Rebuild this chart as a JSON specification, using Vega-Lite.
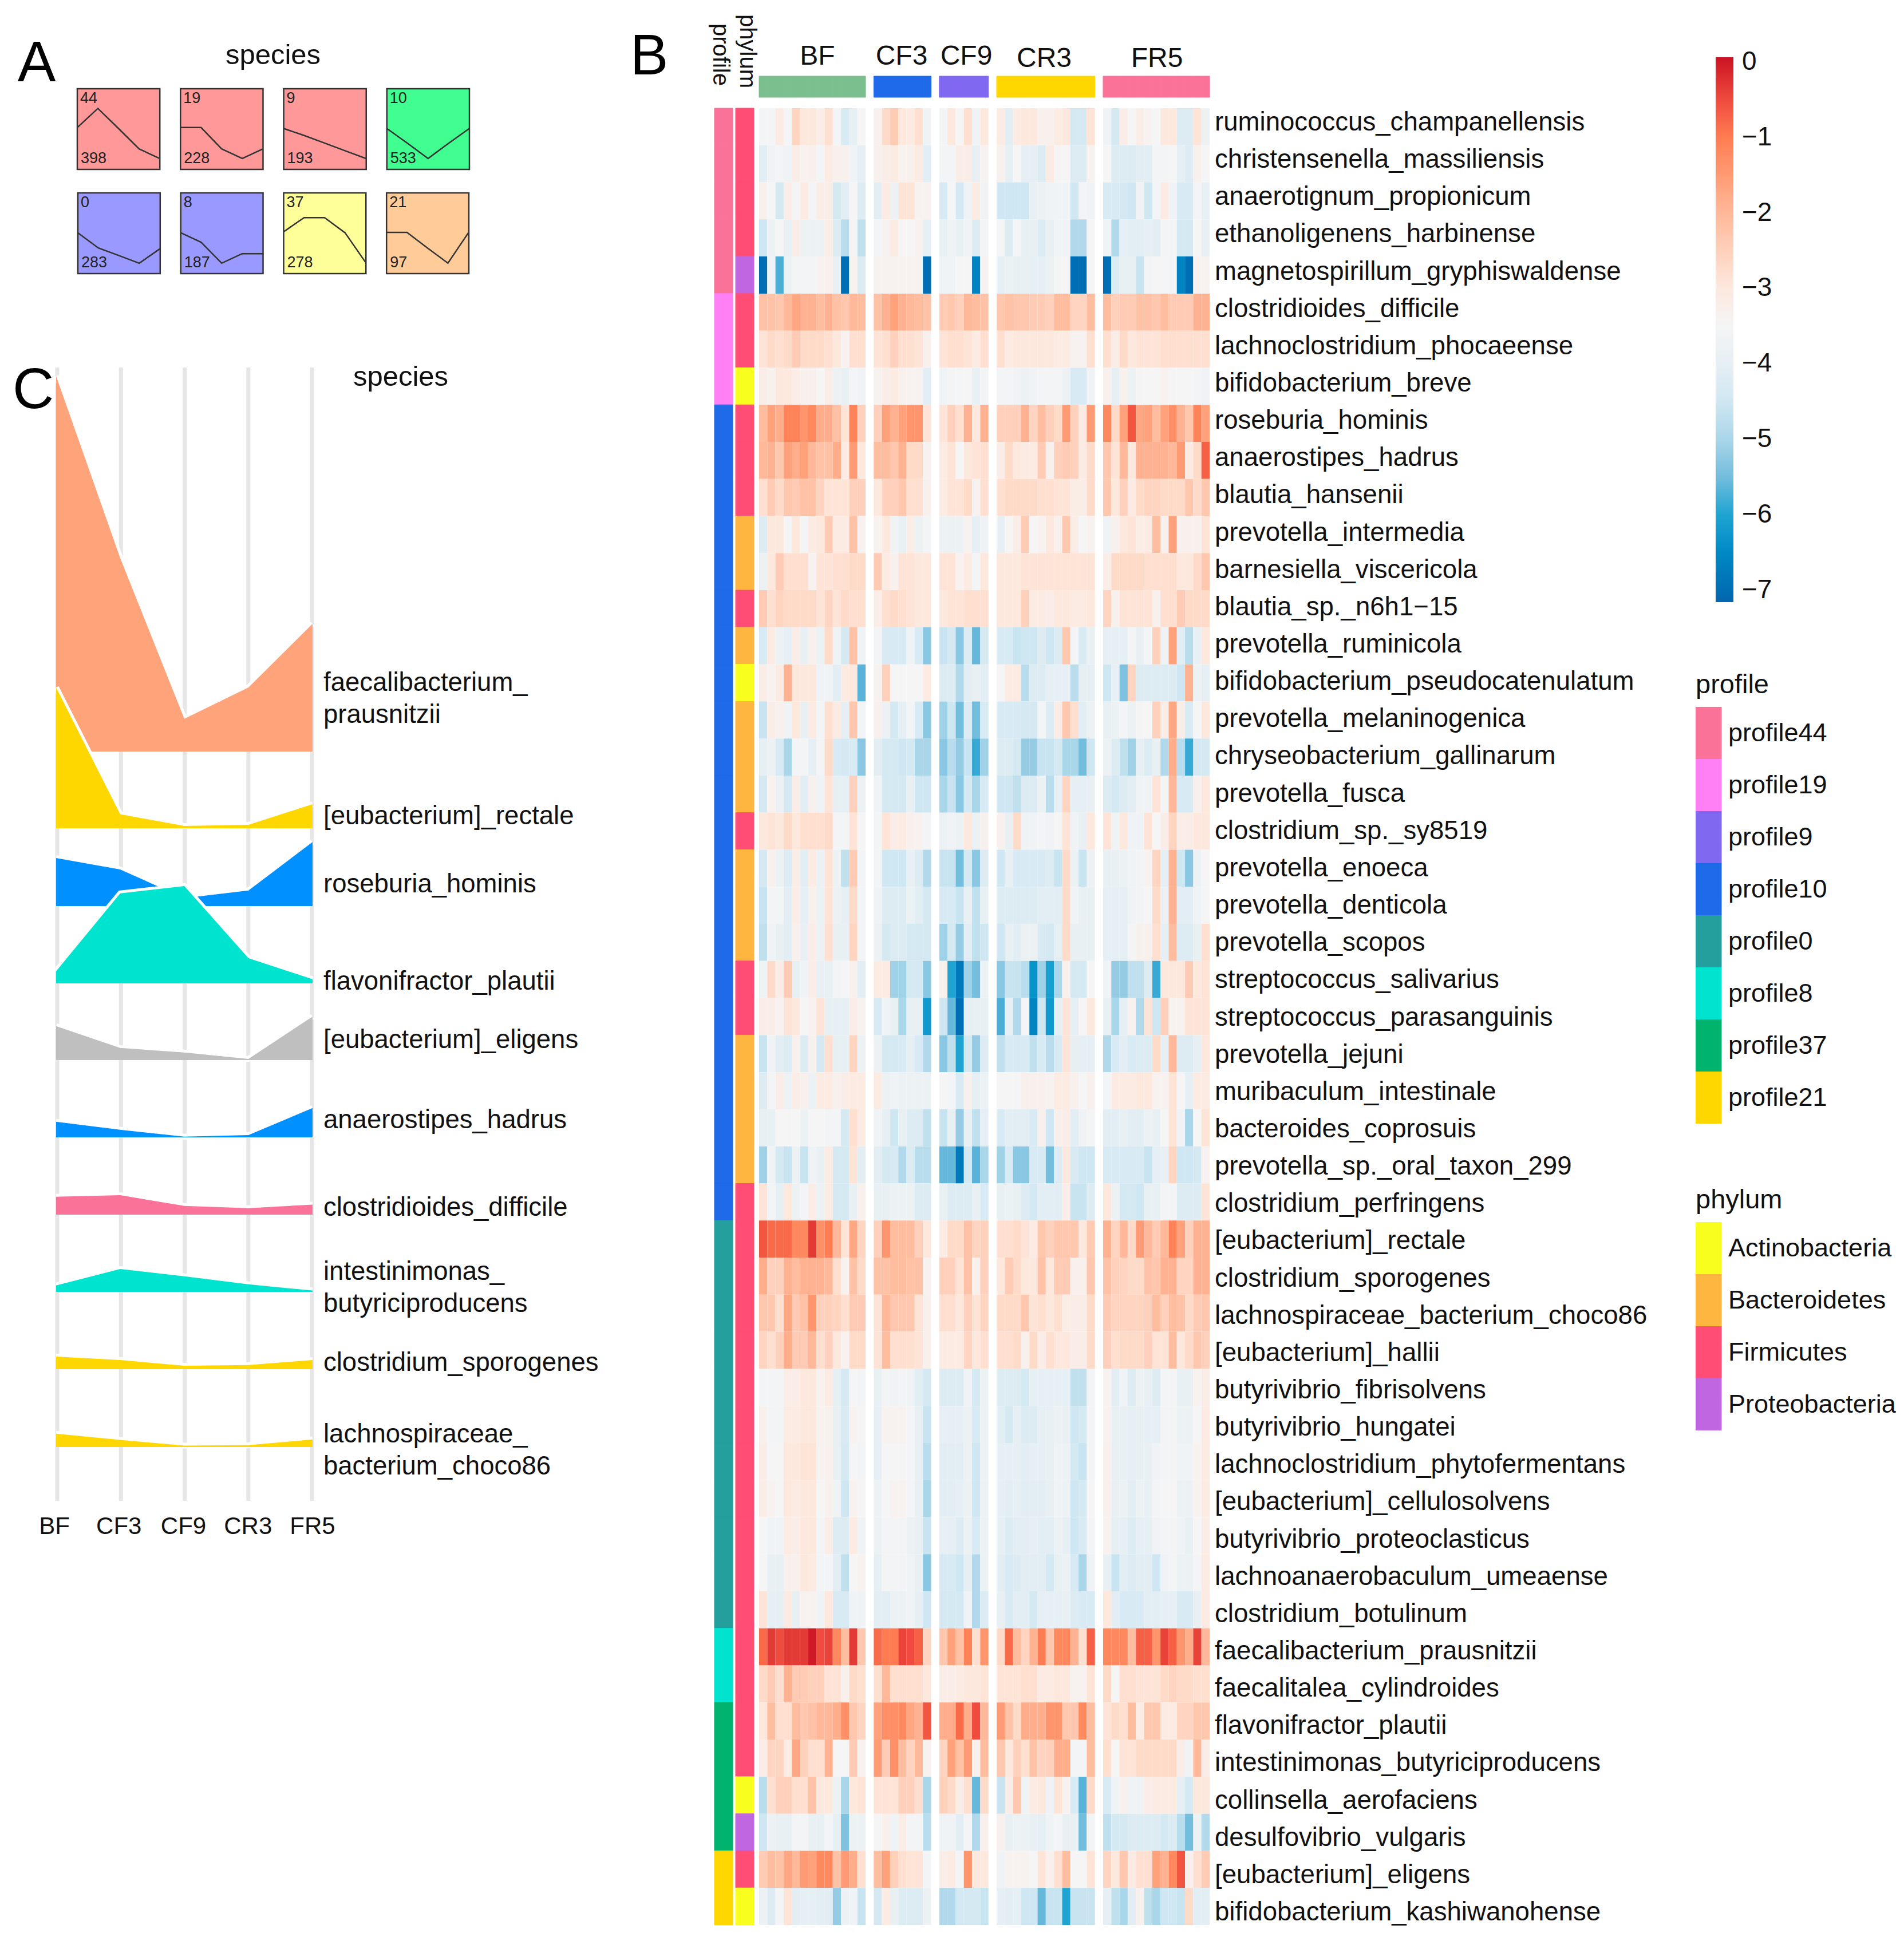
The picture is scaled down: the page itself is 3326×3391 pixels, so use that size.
{"$schema":"https://vega.github.io/schema/vega-lite/v6.json","width":3326,"height":3391,"autosize":{"type":"none"},"padding":0,"background":"white","config":{"font":"Liberation Sans","view":{"stroke":null}},
"datasets":{
"heat":[
{"s":"ruminococcus_champanellensis","p":"profile44","f":"Firmicutes","v":[-3.6,-3.6,-3.1,-3.6,-2.6,-3,-3,-3.2,-2.8,-3.6,-4.3,-4,-3.5,-3.3,-2.7,-2.4,-3,-3.1,-2.8,-3.7,-3.6,-3,-3.5,-2.8,-3.7,-3,-3.1,-4.1,-3.1,-3,-3,-3.3,-3.3,-3.1,-3,-4.4,-4.4,-2.9,-3.7,-4.4,-3.2,-3.5,-3.2,-3.4,-3.5,-3,-3,-4.2,-4.2,-2.9,-3.8]},
{"s":"christensenella_massiliensis","p":"profile44","f":"Firmicutes","v":[-4.1,-3.7,-3.6,-3.7,-3.2,-3.4,-3.3,-3.6,-3.1,-3.3,-3.3,-3.7,-4,-3.3,-3.2,-3.1,-3.4,-3.3,-3.1,-4.1,-3.6,-3.6,-3.2,-3.2,-3.9,-3.4,-3.3,-4,-3.5,-4,-4,-4.2,-3.1,-3.5,-3.5,-4.2,-4.2,-3.4,-3.5,-4.2,-4.2,-4.2,-4.1,-4.1,-3.6,-3.6,-3.5,-4,-4.2,-3.3,-3.5]},
{"s":"anaerotignum_propionicum","p":"profile44","f":"Firmicutes","v":[-3.3,-3.5,-4.4,-3.2,-3.6,-3.1,-3.6,-3.2,-3.2,-4.4,-4.1,-3.5,-4.2,-4.1,-3.1,-3.8,-2.9,-2.9,-3.4,-3.4,-4.3,-3.5,-4.4,-3.7,-3.1,-3.7,-4.5,-4.5,-4.5,-4.5,-3.9,-3.8,-3.7,-3.7,-3.7,-4.5,-3.6,-3.7,-4.3,-4.3,-4.4,-4.5,-3.7,-4.5,-3.6,-3.1,-3.7,-4.3,-4.3,-3.6,-3.9]},
{"s":"ethanoligenens_harbinense","p":"profile44","f":"Firmicutes","v":[-4.5,-3.8,-3.5,-3.9,-3.2,-3.8,-3.8,-3.8,-3.2,-4.2,-4.8,-3.6,-4.7,-3.6,-3.4,-3.1,-3.5,-3.5,-3.4,-4,-3.9,-3.7,-3.9,-3.7,-4.2,-3.6,-3.5,-4.2,-3.6,-3.9,-3.9,-4.2,-3.9,-3.7,-3.7,-4.9,-4.9,-3.5,-3.7,-4.9,-4,-4.1,-4.1,-4,-4.1,-3.6,-3.6,-4.4,-4.4,-3.5,-3.9]},
{"s":"magnetospirillum_gryphiswaldense","p":"profile44","f":"Proteobacteria","v":[-7,-3.7,-5.8,-3.8,-3.6,-3.6,-3.6,-3.4,-3.3,-3.9,-7,-3.4,-4.2,-3.4,-3.4,-3.4,-3.4,-3.4,-3.4,-7,-3.7,-3.7,-3.5,-3.5,-6.6,-3.4,-4,-3.8,-3.9,-3.9,-4,-4,-3.8,-3.5,-3.5,-7,-7,-3.5,-7,-4.2,-3.9,-3.9,-4.6,-3.6,-3.5,-3.5,-3.6,-6.6,-7,-3.4,-3.4]},
{"s":"clostridioides_difficile","p":"profile19","f":"Firmicutes","v":[-2.2,-2.2,-2.3,-2,-1.7,-1.9,-1.9,-2.1,-1.9,-2.2,-2.3,-2,-2.1,-2.2,-1.9,-1.6,-1.9,-2,-2.1,-2.2,-2.4,-2.3,-2.5,-2,-2.1,-2.2,-2.3,-2.2,-2.3,-2.3,-2.4,-2.4,-2.5,-2.1,-2.1,-2.6,-2.6,-2.1,-2.1,-2.5,-2.4,-2.4,-2.2,-2.2,-2.3,-2.1,-2.4,-2.4,-2.4,-1.9,-1.9]},
{"s":"lachnoclostridium_phocaeense","p":"profile19","f":"Firmicutes","v":[-2.9,-2.7,-2.8,-2.7,-2.4,-2.7,-2.7,-2.7,-2.8,-3,-3.4,-2.8,-2.8,-2.9,-2.8,-2.5,-2.8,-2.8,-2.9,-3.3,-2.9,-2.8,-2.8,-2.9,-3.1,-2.8,-2.8,-3.1,-3,-3,-3,-3,-3,-3.1,-3.1,-3.4,-3.4,-2.8,-2.8,-3.2,-2.7,-3,-2.9,-2.9,-2.9,-2.8,-2.8,-2.8,-2.8,-2.8,-2.8]},
{"s":"bifidobacterium_breve","p":"profile19","f":"Actinobacteria","v":[-3.2,-3.3,-3,-3,-3.2,-3.3,-3.3,-3.5,-3.2,-3.8,-3.9,-3.6,-3.7,-3.4,-3.2,-3.1,-3.3,-3.4,-3.4,-4.1,-3.7,-3.6,-3.5,-3.5,-3.9,-3.6,-3.6,-3.6,-3.7,-3.8,-3.7,-3.6,-3.6,-3.6,-3.8,-4.3,-4.3,-3.7,-3.3,-4,-3.3,-3.8,-3.5,-3.5,-3.5,-3.4,-3.5,-3.5,-3.5,-3.6,-3.7]},
{"s":"roseburia_hominis","p":"profile10","f":"Firmicutes","v":[-2.1,-1.6,-1.8,-1.1,-1.1,-1.4,-1.2,-1.8,-1.8,-2.2,-2.9,-1.1,-2.5,-2.5,-1.6,-1.9,-1.6,-1.4,-1.4,-2.9,-2.9,-2.5,-2.8,-1.9,-3,-1.9,-2.5,-2.5,-2.5,-1.9,-2.6,-2.1,-2.5,-2.7,-1.5,-2.5,-3.1,-1.5,-1.2,-2.7,-1.6,-0.6,-1.7,-1.6,-2.1,-1.6,-1.3,-1.9,-2.3,-1.1,-1.6]},
{"s":"anaerostipes_hadrus","p":"profile10","f":"Firmicutes","v":[-2,-1.9,-2.3,-1.6,-1.8,-1.6,-2,-2.2,-2.2,-1.8,-3.1,-1.5,-3,-2.1,-2.1,-2.3,-1.9,-2.7,-2.7,-3.4,-3.1,-2.9,-3.5,-3,-2.9,-2.8,-3.2,-2.7,-3,-3.1,-3.1,-2.4,-3.3,-2.5,-2.4,-2.5,-3.1,-2.7,-2.3,-2.9,-2,-3,-1.9,-1.9,-1.9,-1.9,-2,-1.5,-3.1,-2.7,-0.7]},
{"s":"blautia_hansenii","p":"profile10","f":"Firmicutes","v":[-2.8,-2.4,-2.7,-2.3,-2.4,-2.2,-2.2,-2.6,-2.9,-2.9,-2.9,-2.5,-2.5,-3,-2.5,-2.5,-2.3,-2.8,-2.8,-3.3,-3.1,-2.9,-2.9,-2.7,-3.4,-2.8,-2.8,-2.7,-2.7,-2.7,-2.7,-2.8,-2.8,-2.9,-2.9,-3.2,-3.2,-2.7,-2.3,-3,-2.5,-3.1,-2.7,-2.6,-2.6,-2.7,-2.7,-2.7,-2.3,-2.7,-2.3]},
{"s":"prevotella_intermedia","p":"profile10","f":"Bacteroidetes","v":[-4.2,-3,-3,-3.5,-3,-3.6,-3.1,-3,-2.4,-3.1,-3.1,-2.2,-3.4,-3.4,-3,-3.7,-3.9,-3.2,-3.8,-3.6,-3.8,-3.8,-3.8,-3.4,-4,-3.7,-4,-3.5,-3.2,-2.4,-3.5,-3.4,-3,-3.3,-2.3,-3.2,-3.5,-3.4,-3.7,-3.3,-3,-2.9,-3.2,-3.1,-2.1,-3.3,-1.6,-3.3,-3.3,-3.3,-2.9]},
{"s":"barnesiella_viscericola","p":"profile10","f":"Bacteroidetes","v":[-3.8,-3,-2.4,-2.8,-2.8,-2.8,-3.4,-2.9,-2.9,-2.8,-2.8,-2.7,-2.7,-2.4,-3.1,-3.3,-2.9,-2.9,-3,-3,-2.9,-2.9,-3.4,-3.1,-3.6,-3,-3,-3,-3,-2.9,-2.9,-2.9,-2.9,-2.9,-2.9,-2.9,-2.9,-2.9,-3.2,-2.7,-2.7,-2.7,-2.7,-2.8,-2.8,-2.8,-2.8,-3,-3,-2.7,-2.3]},
{"s":"blautia_sp._n6h1−15","p":"profile10","f":"Firmicutes","v":[-2.4,-2.8,-2.6,-2.7,-2.7,-2.7,-2.7,-2.9,-2.6,-2.9,-2.7,-2.8,-2.8,-3.2,-2.8,-2.7,-2.8,-2.9,-3,-3,-3,-2.9,-2.9,-2.8,-2.8,-2.8,-3,-3,-3,-2.5,-3.1,-3.1,-3.2,-3,-3,-3.1,-3.1,-3,-2.6,-3.3,-2.9,-2.9,-2.9,-2.9,-3.3,-2.8,-2.8,-2.4,-2.7,-2.7,-2.7]},
{"s":"prevotella_ruminicola","p":"profile10","f":"Bacteroidetes","v":[-4.3,-3.1,-3.8,-4,-3.2,-3.9,-3.3,-3.8,-2.7,-3.7,-4.4,-2.2,-3.7,-3.6,-4.3,-4.3,-4.3,-3.7,-4.3,-5.3,-4.6,-4.4,-5.3,-4.2,-5.6,-4.4,-4.3,-4.3,-4.6,-4.5,-4.5,-4.2,-4.5,-4.2,-2.3,-3.6,-4.3,-3.9,-4,-4,-4,-3.6,-3.9,-3.6,-2.5,-3.7,-1.6,-4.1,-4.8,-3.9,-3]},
{"s":"bifidobacterium_pseudocatenulatum","p":"profile10","f":"Actinobacteria","v":[-3.2,-3.4,-3.1,-1.9,-3,-3,-3,-3.7,-3.7,-4.1,-3.1,-3,-5.7,-3.4,-2.5,-3.5,-3.5,-3.5,-3.5,-3.1,-4.2,-4.2,-4.9,-4.1,-3.9,-4.1,-3.5,-3.1,-3.1,-4.8,-4.2,-4.2,-4,-4,-4,-4.8,-4,-4,-4.5,-3.9,-5.4,-2.6,-4.2,-4.2,-4.2,-4.2,-4.2,-4.5,-1.9,-3.8,-4]},
{"s":"prevotella_melaninogenica","p":"profile10","f":"Bacteroidetes","v":[-4.6,-3.2,-3.3,-3.7,-3,-3.9,-3.1,-3.6,-2.8,-3.1,-4,-2.3,-3.6,-3.3,-3.8,-4.4,-4,-3.6,-4.3,-5.3,-5.1,-4.5,-5.5,-4.2,-5.5,-4.3,-4.3,-4.3,-4.3,-4.4,-4.4,-3.6,-4.2,-3.2,-2.3,-2.8,-4.1,-3.8,-3.9,-3.8,-3.6,-3.8,-3.5,-3.5,-2.5,-3.2,-1.7,-3.2,-4.3,-3.5,-3]},
{"s":"chryseobacterium_gallinarum","p":"profile10","f":"Bacteroidetes","v":[-4,-3.8,-4.3,-5,-3.6,-3.6,-4,-3.6,-2.7,-4.3,-4.4,-4.3,-5.3,-4.1,-4.4,-4.4,-4.5,-4.4,-5,-5,-5.3,-4.8,-5.2,-4.6,-5.9,-5.1,-4.2,-4.2,-4.4,-5.2,-5.2,-4.6,-4.6,-4.4,-5,-5,-5.5,-4.5,-3.8,-4.2,-4.7,-5.1,-4,-4.2,-3.9,-4.9,-1.8,-4.8,-5.9,-4.4,-4.4]},
{"s":"prevotella_fusca","p":"profile10","f":"Bacteroidetes","v":[-4.4,-3.4,-3.8,-4.4,-3.2,-4.1,-3.3,-3.7,-2.9,-4,-4,-2.5,-3.8,-3.7,-4.4,-4.4,-4.4,-3.9,-4.5,-4.5,-5,-4.6,-5.3,-4.4,-5,-4.3,-4.5,-4.5,-4.7,-4.2,-4.2,-3.8,-4.8,-3.9,-2.6,-4,-4,-3.9,-4.2,-4.4,-4.2,-4.1,-3.7,-3.7,-2.9,-3.6,-2,-4.3,-4.3,-3.3,-3]},
{"s":"clostridium_sp._sy8519","p":"profile10","f":"Firmicutes","v":[-3,-2.9,-3,-2.7,-3,-2.8,-2.8,-2.8,-2.7,-3.6,-3.6,-2.9,-3.5,-3.6,-2.9,-3.2,-3.1,-3.3,-3.4,-3.6,-3.8,-3.7,-3.8,-3,-3.8,-3.3,-3.3,-3.9,-2.7,-3.7,-3.7,-3.6,-3.7,-3.5,-2.9,-3.7,-3.9,-3,-2.9,-3.7,-3,-3.7,-3.7,-2.9,-3.5,-3.2,-2.6,-3.2,-3.2,-3,-3]},
{"s":"prevotella_enoeca","p":"profile10","f":"Bacteroidetes","v":[-4.4,-3.3,-3.8,-4.2,-3.2,-4.1,-3.1,-3.8,-2.9,-3.8,-4.7,-2.4,-3.6,-3.6,-4.5,-4.5,-4.5,-3.9,-4.2,-4.9,-4.6,-4.6,-5.5,-4.4,-5.3,-4.2,-4.5,-3.9,-4.3,-4.3,-4.3,-4.3,-4.2,-4.6,-2.7,-3.8,-4.6,-3.8,-3.9,-3.9,-3.8,-3.7,-3.6,-3.4,-2.6,-4,-1.9,-4.5,-5.3,-3.8,-3.5]},
{"s":"prevotella_denticola","p":"profile10","f":"Bacteroidetes","v":[-4.6,-3.6,-3.6,-4.1,-3.2,-4,-3.3,-3.8,-2.9,-3.8,-4,-2.7,-3.6,-3.7,-4.2,-4.2,-4.2,-3.8,-4.1,-4.4,-4.3,-4.3,-4.6,-3.9,-4.7,-3.9,-4.2,-4.2,-4.2,-4.2,-4.2,-4.1,-4.1,-4.1,-2.7,-3.7,-3.9,-3.9,-4,-4,-4,-3.7,-3.6,-3.5,-2.7,-3.8,-1.9,-4.1,-4.1,-3.7,-3.5]},
{"s":"prevotella_scopos","p":"profile10","f":"Bacteroidetes","v":[-4.7,-3.7,-3.9,-4.1,-3.3,-3.9,-3.2,-3.8,-2.8,-3.9,-3.9,-2.6,-3.6,-3.8,-4.4,-4.2,-4.2,-4.4,-4.4,-4.4,-5.1,-4.4,-5.2,-4.1,-4.7,-4.5,-4.5,-3.9,-4.1,-3.8,-3.8,-4.3,-4.4,-4,-2.7,-3.9,-3.9,-3.9,-4,-4,-4,-3.6,-3.3,-3.3,-2.8,-4,-2.1,-4.2,-4.2,-3.9,-2.8]},
{"s":"streptococcus_salivarius","p":"profile10","f":"Firmicutes","v":[-3.7,-2.7,-3.2,-2.4,-3.9,-3.7,-3.2,-3.9,-3.9,-3.6,-3.5,-3.3,-4.1,-3.1,-3.1,-5.1,-5.1,-4.4,-4.4,-5.3,-3.3,-6,-6.8,-5.1,-5.5,-3.8,-5.3,-4.6,-4.6,-4.8,-6.3,-5.1,-6.1,-5,-3.3,-4.4,-4.4,-3.5,-3.7,-5.2,-5.2,-4.7,-4.7,-4.2,-5.9,-3,-3,-3,-2.4,-3,-2.9]},
{"s":"streptococcus_parasanguinis","p":"profile10","f":"Firmicutes","v":[-3.2,-3.2,-3.4,-2.9,-3,-3.5,-3.4,-2.9,-4,-4,-4,-3.2,-3.4,-4.3,-3.7,-3.9,-5,-3.9,-3.9,-6.2,-4.5,-5.6,-7,-4,-3.9,-3.9,-5.8,-3.9,-4.9,-3.5,-6.6,-4.5,-6.2,-4,-2.9,-4,-3.5,-3,-3.9,-5,-4,-3.4,-4.9,-2.9,-4.5,-2.5,-3.4,-3.4,-2.9,-2.9,-2.9]},
{"s":"prevotella_jejuni","p":"profile10","f":"Bacteroidetes","v":[-4.6,-3.7,-4.1,-4.2,-3.3,-4.2,-3.3,-4.4,-2.8,-4,-4,-2.6,-3.8,-3.8,-4.4,-4.4,-4.3,-4,-4.3,-4.9,-5.3,-4.7,-6,-4.4,-5.2,-4.2,-4.7,-4.3,-4.3,-4.3,-4.7,-4.3,-4.8,-4.3,-2.9,-4,-4,-4,-4.9,-4.3,-4.1,-4.3,-4.2,-4.2,-2.7,-4,-2,-4.2,-4.2,-4,-3]},
{"s":"muribaculum_intestinale","p":"profile10","f":"Bacteroidetes","v":[-4.2,-3.6,-3.2,-3.8,-3.2,-3.3,-3.8,-3.1,-3.1,-3.3,-3.2,-3.1,-3.1,-3.1,-3.8,-3.7,-3.8,-3.8,-3.8,-3.8,-3.5,-3.6,-4.3,-3.3,-4,-3.8,-3.5,-3.5,-3.5,-3.3,-3.3,-3.3,-3.4,-3.1,-3.1,-3.3,-3.5,-3.3,-3.6,-3.1,-3.1,-3.1,-3,-3,-3.4,-3.4,-2.9,-3.5,-4,-3.1,-3.1]},
{"s":"bacteroides_coprosuis","p":"profile10","f":"Bacteroidetes","v":[-3.9,-3.9,-3.5,-3.5,-3.5,-3.8,-3.5,-3.5,-3.6,-3.6,-4.4,-2.8,-3.1,-3.7,-4,-4.5,-3.9,-4.2,-4.2,-4.7,-4.6,-3.9,-5.2,-3.9,-4.7,-4,-4.3,-4.1,-4.1,-4.1,-4.3,-3.3,-4.5,-3.3,-3.2,-4.1,-3.7,-3.6,-4.1,-4.1,-3.9,-4.1,-4.1,-3.8,-3.9,-3.5,-2.9,-3.7,-5,-3.5,-2.9]},
{"s":"prevotella_sp._oral_taxon_299","p":"profile10","f":"Bacteroidetes","v":[-5.1,-3.7,-4.4,-4.6,-3.8,-4.6,-3.7,-3.9,-3.1,-4.4,-4.4,-2.9,-4.1,-4.1,-4.4,-4.3,-4.9,-4.2,-4.8,-4.8,-5.6,-5.6,-6.8,-4.4,-5.7,-5,-5.1,-4.3,-5.3,-5.3,-4.3,-4.3,-5.5,-4.2,-3,-4.3,-4.5,-4.5,-4.3,-4.3,-4.3,-4.3,-4.3,-4.6,-4,-3.9,-2.6,-4.5,-4.5,-4.4,-3.4]},
{"s":"clostridium_perfringens","p":"profile10","f":"Firmicutes","v":[-2.9,-3.6,-4,-3,-3.8,-3.6,-3.2,-3.8,-3.1,-4.4,-4.4,-3.9,-3.3,-3.9,-3.9,-3.8,-3.8,-3.8,-4.2,-4.2,-3.9,-4.2,-4.2,-4.2,-3.9,-4.3,-3.9,-3.8,-3.9,-4.2,-4.4,-4.1,-4.1,-4.1,-3.2,-4.6,-4.6,-4.2,-3,-3.8,-4.4,-4.4,-4.5,-3.9,-3.9,-3.6,-3.6,-4.2,-4.2,-4.2,-2.9]},
{"s":"[eubacterium]_rectale","p":"profile0","f":"Firmicutes","v":[-0.6,-0.8,-0.8,-0.8,-1.2,-1.2,-0.3,-1.3,-1,-2,-2.9,-1.7,-2.6,-2.5,-1.4,-2.1,-2.1,-2.1,-2.5,-3,-3.1,-2.7,-2.7,-2.2,-2.6,-2.5,-2.8,-2.8,-2.7,-2.9,-3.1,-2.3,-2.5,-2.3,-2.3,-2.3,-3,-2.4,-1.9,-2.6,-2,-2.7,-1.5,-2,-2.4,-2,-1.1,-1.6,-2.5,-1.9,-1.9]},
{"s":"clostridium_sporogenes","p":"profile0","f":"Firmicutes","v":[-1.8,-2.5,-2.5,-1.9,-2.1,-1.9,-1.9,-1.9,-2,-2.8,-3.4,-2.2,-2.7,-2.2,-2.2,-2.1,-2.1,-2.2,-2.2,-3.4,-2.5,-2.5,-2.9,-2.2,-3.3,-2.5,-3,-2.4,-2.7,-3,-3,-2.2,-3,-2.4,-2.4,-3.3,-3.3,-2.3,-2.2,-2.5,-2.6,-2.7,-2.7,-2.2,-2.3,-1.9,-1.9,-2.6,-2.6,-1.9,-1.9]},
{"s":"lachnospiraceae_bacterium_choco86","p":"profile0","f":"Firmicutes","v":[-2.3,-2.3,-2.8,-1.7,-2.4,-2.2,-1.4,-2.5,-2.5,-2.6,-2.8,-2.4,-2.4,-2.9,-2,-2.3,-2.3,-2.3,-2.9,-3.3,-2.8,-2.8,-3,-2.5,-2.9,-2.6,-2.7,-2.7,-2.7,-2.3,-2.9,-2.8,-3,-2.8,-3.2,-3.2,-3.2,-2.7,-2.4,-2.6,-2.6,-2.6,-2.6,-2.5,-2.1,-2.5,-2.1,-2.2,-2.7,-2.4,-2.3]},
{"s":"[eubacterium]_hallii","p":"profile0","f":"Firmicutes","v":[-2.6,-2.8,-2.5,-1.8,-2.4,-2.4,-2,-2.8,-2.5,-3,-3.4,-2.7,-2.7,-2.9,-2.1,-2.8,-2.8,-2.8,-2.9,-3.3,-3.1,-3.1,-3.1,-2.6,-3,-2.8,-2.8,-2.8,-2.7,-3.3,-2.7,-3.2,-2.8,-3,-3,-3.2,-3.2,-2.7,-2.5,-2.8,-2.7,-2.7,-2.7,-2.5,-2.9,-2.9,-2.1,-3,-2.7,-2.3,-2.5]},
{"s":"butyrivibrio_fibrisolvens","p":"profile0","f":"Firmicutes","v":[-3.6,-3.6,-3.6,-3.2,-3.2,-3,-3,-3.4,-3.1,-4,-4.4,-3.5,-3.6,-3.9,-3.6,-3.7,-3.6,-3.7,-4.1,-4.4,-4.2,-4.2,-4.2,-3.7,-4.4,-3.8,-4.2,-4.2,-4.2,-4.4,-4,-4,-4,-4,-4,-4.7,-4.7,-3.6,-3.4,-4.1,-3.7,-4.2,-3.8,-3.9,-4.2,-3.6,-3.6,-3.9,-3.9,-3.4,-3.2]},
{"s":"butyrivibrio_hungatei","p":"profile0","f":"Firmicutes","v":[-3.3,-3.6,-3.6,-3.1,-3.1,-3,-3,-3.4,-3.3,-3.9,-4.3,-3.4,-3.5,-4,-3.4,-3.4,-3.4,-3.6,-3.9,-4.6,-4,-4,-4,-3.8,-4.3,-3.8,-4.1,-4.4,-4,-4.2,-4.2,-4,-3.9,-3.8,-3.9,-4.5,-4.4,-3.6,-3.4,-3.9,-3.9,-4,-3.9,-4,-4,-3.6,-3.6,-3.8,-3.8,-3.5,-3.1]},
{"s":"lachnoclostridium_phytofermentans","p":"profile0","f":"Firmicutes","v":[-3.2,-3.5,-3.5,-3,-3,-2.9,-2.9,-3.4,-3.3,-3.9,-4.4,-3.5,-3.6,-4,-3.5,-3.5,-3.5,-3.6,-3.9,-4.8,-4.1,-4.1,-4.1,-3.8,-4.5,-3.8,-4,-4,-4,-4.1,-4,-4,-3.9,-3.7,-3.8,-4.4,-4.6,-3.6,-3.3,-3.9,-3.9,-4,-3.9,-3.9,-3.7,-3.6,-3.6,-3.7,-3.7,-3.4,-3.1]},
{"s":"[eubacterium]_cellulosolvens","p":"profile0","f":"Firmicutes","v":[-3.2,-3.4,-3.5,-3,-3.1,-3,-3,-3.5,-3.3,-3.7,-4.5,-3.4,-3.5,-3.8,-3.5,-3.4,-3.4,-3.6,-3.9,-5,-4.1,-4.1,-4,-3.8,-4.5,-3.8,-4,-4.1,-4,-4.1,-4.1,-4.1,-3.9,-3.7,-3.8,-4.5,-4.4,-3.5,-3.3,-3.9,-3.8,-4.1,-3.8,-3.9,-3.6,-3.5,-3.5,-3.8,-3.8,-3.4,-3.1]},
{"s":"butyrivibrio_proteoclasticus","p":"profile0","f":"Firmicutes","v":[-3.5,-3.7,-3.7,-3.1,-3.2,-3,-3,-3.6,-3.2,-4.2,-4.2,-3.1,-3.7,-3.8,-3.6,-3.6,-3.6,-3.8,-3.9,-4.6,-4,-4,-4.2,-3.8,-4.3,-3.8,-4,-4.2,-4.1,-4.1,-4,-4.1,-4.1,-3.8,-4,-4.5,-4.3,-3.6,-3.4,-4,-4,-4.2,-4,-4,-3.7,-3.6,-3.6,-3.7,-3.9,-3.5,-3.2]},
{"s":"lachnoanaerobaculum_umeaense","p":"profile0","f":"Firmicutes","v":[-3.5,-3.9,-3.9,-3.3,-3.3,-3,-3.1,-3.6,-3.6,-4.1,-4.7,-3.5,-3.4,-4,-3.6,-3.6,-3.6,-3.7,-3.9,-5.3,-4.3,-4.3,-4.5,-4,-4.9,-3.8,-4.1,-4.3,-4.2,-4.1,-4.1,-4.1,-4.4,-3.9,-3.8,-4.3,-5,-3.7,-3.9,-4.6,-4.1,-4.2,-4.1,-4.1,-4.5,-3.7,-3.6,-3.8,-3.8,-3.6,-3.1]},
{"s":"clostridium_botulinum","p":"profile0","f":"Firmicutes","v":[-2.9,-4,-4,-3.1,-3.9,-3.4,-3.4,-3.7,-3,-4.3,-4.3,-3.7,-3.7,-4.1,-4.1,-3.8,-3.8,-3.7,-4,-4.5,-4.4,-4.4,-4.4,-3.7,-4.9,-4.2,-3.9,-4.3,-4.1,-4.1,-4.4,-4,-4,-4,-3.9,-4.2,-4.3,-4.3,-3,-4.1,-4.3,-4.3,-4.3,-4.1,-4.1,-4,-4,-4.3,-4.3,-3.9,-3.1]},
{"s":"faecalibacterium_prausnitzii","p":"profile8","f":"Firmicutes","v":[-0.8,-0.3,-0.5,-0.3,-0.3,-0.3,0,-0.5,-0.4,-1.2,-2.1,-0.3,-2.3,-0.8,-1,-1,-0.4,-0.5,-0.7,-2.6,-2.3,-1.6,-2.2,-1.1,-2.8,-1.4,-2.7,-0.8,-2.1,-2.6,-1.9,-1,-2.3,-1.2,-1.2,-1.9,-2.8,-0.7,-1.2,-1.2,-1.2,-2.1,-0.7,-0.7,-1.4,-0.4,-0.7,-1.4,-1.8,-0.4,-2]},
{"s":"faecalitalea_cylindroides","p":"profile8","f":"Firmicutes","v":[-2.7,-2.4,-2.8,-1.9,-2.4,-2.4,-2.5,-2.5,-2.9,-2.9,-3.3,-2.7,-2.8,-2.8,-2,-2.8,-2.8,-2.8,-2.8,-3,-3.2,-3.2,-3.1,-3,-3,-2.9,-2.9,-2.9,-2.9,-2.8,-2.8,-3.1,-3.1,-3,-3,-3.4,-3.4,-2.9,-2.7,-3.5,-2.8,-2.8,-2.9,-2.9,-2.9,-2.7,-2.6,-2.7,-2.7,-2.8,-2.8]},
{"s":"flavonifractor_plautii","p":"profile37","f":"Firmicutes","v":[-3,-2.1,-2.8,-2.8,-2.1,-2.3,-2.2,-2,-2,-1.8,-1.3,-2.3,-2.6,-1.6,-1.3,-1.3,-1.2,-1.7,-1.9,-0.6,-1.8,-1.8,-0.8,-1.8,-0.5,-2,-1.5,-2.2,-2.7,-1.8,-1.8,-1.8,-1.4,-1.4,-2.3,-2.3,-1.2,-2.1,-2.9,-2.7,-2.8,-2.1,-3.2,-2.3,-2.3,-3.1,-3.1,-2.6,-2.6,-2.3,-2.3]},
{"s":"intestinimonas_butyriciproducens","p":"profile37","f":"Firmicutes","v":[-3.2,-2.6,-2.6,-3.1,-1.7,-2.5,-2.8,-2.8,-1.9,-3.5,-3.5,-2.4,-3.4,-1.5,-2.4,-1.3,-2.1,-2.6,-2,-3.4,-2.6,-1.6,-2.2,-1.5,-3.3,-2.1,-2.3,-3,-2.5,-2.8,-2.2,-2.6,-2.5,-1.8,-1.8,-3.6,-3.6,-2.1,-2.8,-3.5,-2.9,-2.9,-2.7,-2.7,-2.7,-2.7,-2.7,-3.2,-3.7,-2,-3.2]},
{"s":"collinsella_aerofaciens","p":"profile37","f":"Actinobacteria","v":[-4.8,-2.8,-2.5,-2.5,-2.8,-2.8,-2.2,-3,-3,-3.8,-5,-3,-2.9,-2.9,-2.9,-2.9,-2.5,-2.5,-2.8,-5,-2.5,-2.7,-3.2,-2.8,-5.6,-2.7,-4.6,-3.2,-2.3,-3.7,-3.1,-3,-3.7,-2.9,-3.4,-4.3,-5.7,-2.7,-4.3,-3.7,-3.3,-3.7,-3.7,-3.2,-3.1,-3.1,-3.1,-4,-4.4,-3,-3]},
{"s":"desulfovibrio_vulgaris","p":"profile37","f":"Proteobacteria","v":[-4.5,-3.8,-3.9,-3.9,-3.6,-3.6,-3.9,-3.9,-3.6,-4,-5.4,-3.8,-3.8,-3.5,-3.3,-3.7,-3.2,-3.6,-3.6,-4.8,-3.7,-3.7,-4.1,-3.6,-4.9,-3.3,-3.3,-3.9,-3.8,-3.8,-3.9,-4,-3.7,-3.6,-3.9,-3.9,-5.5,-3.6,-4.7,-4.4,-4.4,-4.2,-4.2,-4.2,-4.2,-4.4,-4.2,-4.8,-5.5,-3.8,-4.9]},
{"s":"[eubacterium]_eligens","p":"profile21","f":"Firmicutes","v":[-2.4,-2.1,-2.2,-1.7,-2,-1.5,-1.6,-1.2,-1.2,-2.2,-1.5,-1.8,-2.8,-2.1,-1.6,-2.5,-2.8,-2.9,-2.9,-3.6,-3.2,-3.1,-3.6,-1.4,-3,-3,-3.7,-3.4,-3.4,-3.4,-3.5,-2.9,-3.3,-2.8,-2.1,-3.5,-3.5,-2.9,-2.6,-3,-2.3,-3.1,-2.8,-2.8,-1.6,-1.9,-1.2,-0.6,-3.3,-2.8,-2.4]},
{"s":"bifidobacterium_kashiwanohense","p":"profile21","f":"Actinobacteria","v":[-3.8,-4.2,-3.6,-2.9,-4.1,-4,-4,-4.1,-4.1,-5.2,-3.8,-3.7,-4.6,-4.4,-3.1,-3.9,-4.2,-4.2,-4.2,-3.8,-4.9,-4.9,-4.4,-4.4,-4.4,-4.6,-4,-4.1,-4,-4.5,-4.5,-5.6,-4.6,-4.6,-6,-4.6,-4.6,-4.6,-4,-4.7,-5,-4.1,-3.3,-4.7,-5,-4.5,-4.5,-4.6,-2.7,-4.1,-4.1]}
],
"groups":[{"g":"BF","k":1,"i":[1,2,3,4,5,6,7,8,9,10,11,12,13]},{"g":"CF3","k":2,"i":[14,15,16,17,18,19,20]},{"g":"CF9","k":3,"i":[21,22,23,24,25,26]},{"g":"CR3","k":4,"i":[27,28,29,30,31,32,33,34,35,36,37,38]},{"g":"FR5","k":5,"i":[39,40,41,42,43,44,45,46,47,48,49,50,51]}],
"pTop":[{"profile":"44","n":"398"},{"profile":"19","n":"228"},{"profile":"9","n":"193"},{"profile":"10","n":"533"}],
"pBot":[{"profile":"0","n":"283"},{"profile":"8","n":"187"},{"profile":"37","n":"278"},{"profile":"21","n":"97"}],
"lTop":[{"profile":"44","t":"BF","v":0.519},{"profile":"44","t":"CF3","v":0.756},{"profile":"44","t":"CF9","v":0.507},{"profile":"44","t":"CR3","v":0.254},{"profile":"44","t":"FR5","v":0.135},{"profile":"19","t":"BF","v":0.519},{"profile":"19","t":"CF3","v":0.519},{"profile":"19","t":"CF9","v":0.254},{"profile":"19","t":"CR3","v":0.135},{"profile":"19","t":"FR5","v":0.254},{"profile":"9","t":"BF","v":0.507},{"profile":"9","t":"CF3","v":0.42},{"profile":"9","t":"CF9","v":0.325},{"profile":"9","t":"CR3","v":0.23},{"profile":"9","t":"FR5","v":0.135},{"profile":"10","t":"BF","v":0.507},{"profile":"10","t":"CF3","v":0.325},{"profile":"10","t":"CF9","v":0.135},{"profile":"10","t":"CR3","v":0.325},{"profile":"10","t":"FR5","v":0.507}],
"lBot":[{"profile":"0","t":"BF","v":0.506},{"profile":"0","t":"CF3","v":0.318},{"profile":"0","t":"CF9","v":0.224},{"profile":"0","t":"CR3","v":0.129},{"profile":"0","t":"FR5","v":0.306},{"profile":"8","t":"BF","v":0.506},{"profile":"8","t":"CF3","v":0.388},{"profile":"8","t":"CF9","v":0.129},{"profile":"8","t":"CR3","v":0.247},{"profile":"8","t":"FR5","v":0.247},{"profile":"37","t":"BF","v":0.518},{"profile":"37","t":"CF3","v":0.694},{"profile":"37","t":"CF9","v":0.694},{"profile":"37","t":"CR3","v":0.506},{"profile":"37","t":"FR5","v":0.141},{"profile":"21","t":"BF","v":0.511},{"profile":"21","t":"CF3","v":0.511},{"profile":"21","t":"CF9","v":0.318},{"profile":"21","t":"CR3","v":0.129},{"profile":"21","t":"FR5","v":0.506}],
"stages":[{"t":"BF"},{"t":"CF3"},{"t":"CF9"},{"t":"CR3"},{"t":"FR5"}],
"c":[
{"sp":"fp","t":"BF","v":16.4},{"sp":"fp","t":"CF3","v":8.45},{"sp":"fp","t":"CF9","v":1.43},{"sp":"fp","t":"CR3","v":2.8},{"sp":"fp","t":"FR5","v":5.58},
{"sp":"er","t":"BF","v":6.15},{"sp":"er","t":"CF3","v":0.61},{"sp":"er","t":"CF9","v":0.1},{"sp":"er","t":"CR3","v":0.15},{"sp":"er","t":"FR5","v":1.05},
{"sp":"rh","t":"BF","v":2.1},{"sp":"rh","t":"CF3","v":1.6},{"sp":"rh","t":"CF9","v":0.35},{"sp":"rh","t":"CR3","v":0.68},{"sp":"rh","t":"FR5","v":2.8},
{"sp":"fl","t":"BF","v":0.53},{"sp":"fl","t":"CF3","v":3.93},{"sp":"fl","t":"CF9","v":4.25},{"sp":"fl","t":"CR3","v":1.1},{"sp":"fl","t":"FR5","v":0.18},
{"sp":"ee","t":"BF","v":1.48},{"sp":"ee","t":"CF3","v":0.53},{"sp":"ee","t":"CF9","v":0.33},{"sp":"ee","t":"CR3","v":0.05},{"sp":"ee","t":"FR5","v":1.9},
{"sp":"ah","t":"BF","v":0.68},{"sp":"ah","t":"CF3","v":0.33},{"sp":"ah","t":"CF9","v":0.03},{"sp":"ah","t":"CR3","v":0.1},{"sp":"ah","t":"FR5","v":1.28},
{"sp":"cd","t":"BF","v":0.78},{"sp":"cd","t":"CF3","v":0.85},{"sp":"cd","t":"CF9","v":0.38},{"sp":"cd","t":"CR3","v":0.28},{"sp":"cd","t":"FR5","v":0.44},
{"sp":"ib","t":"BF","v":0.28},{"sp":"ib","t":"CF3","v":1},{"sp":"ib","t":"CF9","v":0.68},{"sp":"ib","t":"CR3","v":0.33},{"sp":"ib","t":"FR5","v":0.06},
{"sp":"cs","t":"BF","v":0.55},{"sp":"cs","t":"CF3","v":0.4},{"sp":"cs","t":"CF9","v":0.15},{"sp":"cs","t":"CR3","v":0.18},{"sp":"cs","t":"FR5","v":0.4},
{"sp":"lb","t":"BF","v":0.58},{"sp":"lb","t":"CF3","v":0.31},{"sp":"lb","t":"CF9","v":0.06},{"sp":"lb","t":"CR3","v":0.08},{"sp":"lb","t":"FR5","v":0.33}
],
"cLabels":[{"k":1,"l":"faecalibacterium_\nprausnitzii"},{"k":2,"l":"[eubacterium]_rectale"},{"k":3,"l":"roseburia_hominis"},{"k":4,"l":"flavonifractor_plautii"},{"k":5,"l":"[eubacterium]_eligens"},{"k":6,"l":"anaerostipes_hadrus"},{"k":7,"l":"clostridioides_difficile"},{"k":8,"l":"intestinimonas_\nbutyriciproducens"},{"k":9,"l":"clostridium_sporogenes"},{"k":10,"l":"lachnospiraceae_\nbacterium_choco86"}]
},
"layer":[
{"data":{"name":"heat"},"transform":[{"flatten":["v"]},{"window":[{"op":"row_number","as":"i"}],"groupby":["s"]}],"mark":{"type":"rect"},"encoding":{
"x":{"field":"i","type":"ordinal","axis":null,"scale":{"type":"band","domain":[1,2,3,4,5,6,7,8,9,10,11,12,13,"g1",14,15,16,17,18,19,20,"g2",21,22,23,24,25,26,"g3",27,28,29,30,31,32,33,34,35,36,37,38,"g4",39,40,41,42,43,44,45,46,47,48,49,50,51],"range":[1326,2113],"paddingInner":0,"paddingOuter":0}},
"y":{"field":"s","type":"nominal","sort":null,"axis":null,"scale":{"type":"band","range":[189,3363],"paddingInner":0,"paddingOuter":0}},
"color":{"field":"v","type":"quantitative","scale":{"domain":[-7.16,-6,-5,-4.5,-4,-3.5,-3,-2,-1,-0.5,0.06],"range":["#0565ae","#1fa4d2","#aad6e9","#cfe7f2","#e6eff4","#f5f5f5","#fde8de","#ffb899","#ff7c52","#ef4b3e","#cb0f22"]},"legend":{"type":"gradient","orient":"none","legendX":2997,"legendY":100,"title":null,"gradientLength":952,"gradientThickness":31,"values":[0,-1,-2,-3,-4,-5,-6,-7],"format":"d","labelFontSize":46,"labelAlign":"right","labelOffset":15,"labelColor":"#111","gradientStrokeWidth":0,"padding":0}}}},
{"data":{"name":"groups"},"transform":[{"flatten":["i"]}],"mark":{"type":"rect","strokeWidth":1},"encoding":{
"x":{"field":"i","type":"ordinal","axis":null,"scale":{"type":"band","domain":[1,2,3,4,5,6,7,8,9,10,11,12,13,"g1",14,15,16,17,18,19,20,"g2",21,22,23,24,25,26,"g3",27,28,29,30,31,32,33,34,35,36,37,38,"g4",39,40,41,42,43,44,45,46,47,48,49,50,51],"range":[1326,2113],"paddingInner":0,"paddingOuter":0}},
"y":{"datum":0,"type":"quantitative","axis":null,"scale":{"domain":[0,1],"range":[170,133]}},"y2":{"datum":1},
"stroke":{"field":"g","type":"nominal","legend":null,"scale":{"domain":["BF","CF3","CF9","CR3","FR5"],"range":["#7cbf8e","#1f6ae8","#8068f0","#ffd700","#fb7299"]}},
"color":{"field":"g","type":"nominal","legend":null,"scale":{"domain":["BF","CF3","CF9","CR3","FR5"],"range":["#7cbf8e","#1f6ae8","#8068f0","#ffd700","#fb7299"]}}}},
{"data":{"name":"groups"},"mark":{"type":"text","fontSize":48,"align":"center","baseline":"middle","color":"#111"},"encoding":{"text":{"field":"g"},
"x":{"field":"k","type":"quantitative","axis":null,"scale":{"domain":[1,2,3,4,5],"range":[1428,1575,1688,1824,2021]}},
"y":{"field":"k","type":"quantitative","axis":null,"scale":{"domain":[1,2,3,4,5],"range":[99,99,99,103,103]}}}},
{"data":{"name":"heat"},"mark":{"type":"rect","strokeWidth":1},"encoding":{
"x":{"datum":"profile","type":"nominal","axis":null,"scale":{"type":"band","domain":["profile","phylum"],"range":[1248,1317],"paddingInner":0.135,"paddingOuter":0}},
"y":{"field":"s","type":"nominal","sort":null,"axis":null,"scale":{"type":"band","range":[189,3363],"paddingInner":0,"paddingOuter":0}},
"stroke":{"field":"p","type":"nominal","legend":null,"scale":{"domain":["profile44","profile19","profile9","profile10","profile0","profile8","profile37","profile21"],"range":["#fb7299","#ff80f4","#8068f0","#1f6ae8","#259e9e","#00e3cf","#00b46e","#ffd700"]}},
"color":{"field":"p","type":"nominal","scale":{"domain":["profile44","profile19","profile9","profile10","profile0","profile8","profile37","profile21"],"range":["#fb7299","#ff80f4","#8068f0","#1f6ae8","#259e9e","#00e3cf","#00b46e","#ffd700"]},"legend":{"orient":"none","legendX":2962,"legendY":1174,"title":"profile","titleFontSize":47,"titleFontWeight":"normal","titleColor":"#111","titlePadding":14,"labelFontSize":45,"labelColor":"#111","labelOffset":-34,"labelLimit":400,"symbolType":"M-1,-1H0V1H-1Z","symbolSize":8281,"symbolStrokeWidth":0,"rowPadding":0,"padding":0,"symbolOpacity":1}}}},
{"data":{"name":"heat"},"mark":{"type":"rect","strokeWidth":1},"encoding":{
"x":{"datum":"phylum","type":"nominal","axis":null,"scale":{"type":"band","domain":["profile","phylum"],"range":[1248,1317],"paddingInner":0.135,"paddingOuter":0}},
"y":{"field":"s","type":"nominal","sort":null,"axis":null,"scale":{"type":"band","range":[189,3363],"paddingInner":0,"paddingOuter":0}},
"stroke":{"field":"f","type":"nominal","legend":null,"scale":{"domain":["Actinobacteria","Bacteroidetes","Firmicutes","Proteobacteria"],"range":["#f8ff1f","#ffb641","#ff4d76","#bf66e0"]}},
"color":{"field":"f","type":"nominal","scale":{"domain":["Actinobacteria","Bacteroidetes","Firmicutes","Proteobacteria"],"range":["#f8ff1f","#ffb641","#ff4d76","#bf66e0"]},"legend":{"orient":"none","legendX":2962,"legendY":2074,"title":"phylum","titleFontSize":47,"titleFontWeight":"normal","titleColor":"#111","titlePadding":14,"labelFontSize":45,"labelColor":"#111","labelOffset":-34,"labelLimit":400,"symbolType":"M-1,-1H0V1H-1Z","symbolSize":8281,"symbolStrokeWidth":0,"rowPadding":0,"padding":0,"symbolOpacity":1}}}},
{"data":{"values":[{"t":"profile","k":1},{"t":"phylum","k":2}]},"mark":{"type":"text","fontSize":40,"angle":90,"align":"right","baseline":"middle","color":"#111"},"encoding":{"text":{"field":"t"},
"x":{"field":"k","type":"quantitative","axis":null,"scale":{"domain":[1,2],"range":[1258,1305]}},
"y":{"field":"k","type":"quantitative","axis":null,"scale":{"domain":[1,2],"range":[150,154]}}}},
{"data":{"name":"heat"},"mark":{"type":"text","fontSize":45.6,"align":"left","baseline":"middle","color":"#111"},"encoding":{"text":{"field":"s"},
"x":{"datum":0,"type":"quantitative","axis":null,"scale":{"domain":[0,1],"range":[2122,2200]}},
"y":{"field":"s","type":"nominal","sort":null,"axis":null,"scale":{"type":"band","range":[181.4,3373.6],"paddingInner":0,"paddingOuter":0}}}},
{"data":{"values":[{"t":"A","k":1},{"t":"B","k":2},{"t":"C","k":3}]},"mark":{"type":"text","fontSize":100,"align":"center","baseline":"middle","color":"#000"},"encoding":{"text":{"field":"t"},
"x":{"field":"k","type":"quantitative","axis":null,"scale":{"domain":[1,2,3],"range":[64,1134,58]}},
"y":{"field":"k","type":"quantitative","axis":null,"scale":{"domain":[1,2,3],"range":[112,100,683]}}}},
{"data":{"values":[{"t":"species","k":1},{"t":"species","k":2}]},"mark":{"type":"text","fontSize":49,"align":"center","baseline":"middle","color":"#111"},"encoding":{"text":{"field":"t"},
"x":{"field":"k","type":"quantitative","axis":null,"scale":{"domain":[1,2],"range":[477,700]}},
"y":{"field":"k","type":"quantitative","axis":null,"scale":{"domain":[1,2],"range":[97,659]}}}},
{"data":{"name":"pTop"},"mark":{"type":"rect","stroke":"#333","strokeWidth":2.5},"encoding":{
"x":{"field":"profile","type":"nominal","sort":null,"axis":null,"scale":{"type":"band","domain":["44","19","9","10"],"range":[135,820],"paddingInner":0.2,"paddingOuter":0}},
"y":{"datum":0,"type":"quantitative","axis":null,"scale":{"domain":[0,1],"range":[296,155]}},"y2":{"datum":1},
"color":{"field":"profile","type":"nominal","legend":null,"scale":{"domain":["44","19","9","10"],"range":["#ff9999","#ff9999","#ff9999","#40ff90"]}}}},
{"data":{"name":"lTop"},"mark":{"type":"line","color":"#333","strokeWidth":2.5},"encoding":{
"x":{"field":"profile","type":"nominal","axis":null,"scale":{"type":"band","domain":["44","19","9","10"],"range":[135,820],"paddingInner":0.2,"paddingOuter":0}},
"xOffset":{"field":"t","type":"nominal","scale":{"type":"point","domain":["BF","CF3","CF9","CR3","FR5"],"range":[0,144],"padding":0}},
"y":{"field":"v","type":"quantitative","axis":null,"scale":{"domain":[0,1],"range":[296,155]}},"detail":{"field":"profile"}}},
{"data":{"name":"pTop"},"mark":{"type":"text","fontSize":27,"align":"left","baseline":"middle","dx":5,"color":"#222"},"encoding":{"text":{"field":"profile"},
"x":{"field":"profile","type":"nominal","bandPosition":0,"axis":null,"scale":{"type":"band","domain":["44","19","9","10"],"range":[135,820],"paddingInner":0.2,"paddingOuter":0}},
"y":{"datum":0.88,"type":"quantitative","axis":null,"scale":{"domain":[0,1],"range":[296,155]}}}},
{"data":{"name":"pTop"},"mark":{"type":"text","fontSize":27,"align":"left","baseline":"middle","dx":6,"color":"#222"},"encoding":{"text":{"field":"n"},
"x":{"field":"profile","type":"nominal","bandPosition":0,"axis":null,"scale":{"type":"band","domain":["44","19","9","10"],"range":[135,820],"paddingInner":0.2,"paddingOuter":0}},
"y":{"datum":0.135,"type":"quantitative","axis":null,"scale":{"domain":[0,1],"range":[296,155]}}}},
{"data":{"name":"pBot"},"mark":{"type":"rect","stroke":"#333","strokeWidth":2.5},"encoding":{
"x":{"field":"profile","type":"nominal","axis":null,"scale":{"type":"band","domain":["0","8","37","21"],"range":[136,819],"paddingInner":0.2,"paddingOuter":0}},
"y":{"datum":0,"type":"quantitative","axis":null,"scale":{"domain":[0,1],"range":[478,337]}},"y2":{"datum":1},
"color":{"field":"profile","type":"nominal","legend":null,"scale":{"domain":["0","8","37","21"],"range":["#9999ff","#9999ff","#ffff99","#ffcc99"]}}}},
{"data":{"name":"lBot"},"mark":{"type":"line","color":"#333","strokeWidth":2.5},"encoding":{
"x":{"field":"profile","type":"nominal","axis":null,"scale":{"type":"band","domain":["0","8","37","21"],"range":[136,819],"paddingInner":0.2,"paddingOuter":0}},
"xOffset":{"field":"t","type":"nominal","scale":{"type":"point","domain":["BF","CF3","CF9","CR3","FR5"],"range":[0,143],"padding":0}},
"y":{"field":"v","type":"quantitative","axis":null,"scale":{"domain":[0,1],"range":[478,337]}},"detail":{"field":"profile"}}},
{"data":{"name":"pBot"},"mark":{"type":"text","fontSize":27,"align":"left","baseline":"middle","dx":5,"color":"#222"},"encoding":{"text":{"field":"profile"},
"x":{"field":"profile","type":"nominal","bandPosition":0,"axis":null,"scale":{"type":"band","domain":["0","8","37","21"],"range":[136,819],"paddingInner":0.2,"paddingOuter":0}},
"y":{"datum":0.88,"type":"quantitative","axis":null,"scale":{"domain":[0,1],"range":[478,337]}}}},
{"data":{"name":"pBot"},"mark":{"type":"text","fontSize":27,"align":"left","baseline":"middle","dx":6,"color":"#222"},"encoding":{"text":{"field":"n"},
"x":{"field":"profile","type":"nominal","bandPosition":0,"axis":null,"scale":{"type":"band","domain":["0","8","37","21"],"range":[136,819],"paddingInner":0.2,"paddingOuter":0}},
"y":{"datum":0.135,"type":"quantitative","axis":null,"scale":{"domain":[0,1],"range":[478,337]}}}},
{"data":{"name":"stages"},"mark":{"type":"rule","color":"#e6e6e6","strokeWidth":7},"encoding":{
"x":{"field":"t","type":"nominal","axis":null,"scale":{"type":"point","domain":["BF","CF3","CF9","CR3","FR5"],"range":[100,545],"padding":0}},
"y":{"datum":0,"type":"quantitative","axis":null,"scale":{"domain":[0,1],"range":[2622,642]}},"y2":{"datum":1}}},
{"data":{"name":"stages"},"mark":{"type":"text","fontSize":42,"align":"center","baseline":"middle","color":"#111"},"encoding":{"text":{"field":"t"},
"x":{"field":"t","type":"nominal","axis":null,"scale":{"type":"point","domain":["BF","CF3","CF9","CR3","FR5"],"range":[95,546],"padding":0}},
"y":{"datum":0,"type":"quantitative","axis":null,"scale":{"domain":[0,1],"range":[2667,2600]}}}},
{"data":{"name":"c"},"transform":[{"filter":"datum.sp=='fp'"}],"mark":{"type":"line","color":"white","strokeWidth":10},"encoding":{"x":{"field":"t","type":"nominal","axis":null,"scale":{"type":"point","domain":["BF","CF3","CF9","CR3","FR5"],"range":[98,546],"padding":0}},"y":{"field":"v","type":"quantitative","axis":null,"scale":{"domain":[0,20],"range":[1313,513]}}}},
{"data":{"name":"c"},"transform":[{"filter":"datum.sp=='fp'"}],"mark":{"type":"area","color":"#ffa37a","opacity":1},"encoding":{"x":{"field":"t","type":"nominal","axis":null,"scale":{"type":"point","domain":["BF","CF3","CF9","CR3","FR5"],"range":[98,546],"padding":0}},"y":{"field":"v","type":"quantitative","axis":null,"scale":{"domain":[0,20],"range":[1313,513]}}}},
{"data":{"name":"c"},"transform":[{"filter":"datum.sp=='er'"}],"mark":{"type":"line","color":"white","strokeWidth":10},"encoding":{"x":{"field":"t","type":"nominal","axis":null,"scale":{"type":"point","domain":["BF","CF3","CF9","CR3","FR5"],"range":[98,546],"padding":0}},"y":{"field":"v","type":"quantitative","axis":null,"scale":{"domain":[0,20],"range":[1447,647]}}}},
{"data":{"name":"c"},"transform":[{"filter":"datum.sp=='er'"}],"mark":{"type":"area","color":"#ffd700","opacity":1},"encoding":{"x":{"field":"t","type":"nominal","axis":null,"scale":{"type":"point","domain":["BF","CF3","CF9","CR3","FR5"],"range":[98,546],"padding":0}},"y":{"field":"v","type":"quantitative","axis":null,"scale":{"domain":[0,20],"range":[1447,647]}}}},
{"data":{"name":"c"},"transform":[{"filter":"datum.sp=='rh'"}],"mark":{"type":"line","color":"white","strokeWidth":10},"encoding":{"x":{"field":"t","type":"nominal","axis":null,"scale":{"type":"point","domain":["BF","CF3","CF9","CR3","FR5"],"range":[98,546],"padding":0}},"y":{"field":"v","type":"quantitative","axis":null,"scale":{"domain":[0,20],"range":[1583,783]}}}},
{"data":{"name":"c"},"transform":[{"filter":"datum.sp=='rh'"}],"mark":{"type":"area","color":"#0090ff","opacity":1},"encoding":{"x":{"field":"t","type":"nominal","axis":null,"scale":{"type":"point","domain":["BF","CF3","CF9","CR3","FR5"],"range":[98,546],"padding":0}},"y":{"field":"v","type":"quantitative","axis":null,"scale":{"domain":[0,20],"range":[1583,783]}}}},
{"data":{"name":"c"},"transform":[{"filter":"datum.sp=='fl'"}],"mark":{"type":"line","color":"white","strokeWidth":10},"encoding":{"x":{"field":"t","type":"nominal","axis":null,"scale":{"type":"point","domain":["BF","CF3","CF9","CR3","FR5"],"range":[98,546],"padding":0}},"y":{"field":"v","type":"quantitative","axis":null,"scale":{"domain":[0,20],"range":[1718,918]}}}},
{"data":{"name":"c"},"transform":[{"filter":"datum.sp=='fl'"}],"mark":{"type":"area","color":"#00e3cf","opacity":1},"encoding":{"x":{"field":"t","type":"nominal","axis":null,"scale":{"type":"point","domain":["BF","CF3","CF9","CR3","FR5"],"range":[98,546],"padding":0}},"y":{"field":"v","type":"quantitative","axis":null,"scale":{"domain":[0,20],"range":[1718,918]}}}},
{"data":{"name":"c"},"transform":[{"filter":"datum.sp=='ee'"}],"mark":{"type":"line","color":"white","strokeWidth":10},"encoding":{"x":{"field":"t","type":"nominal","axis":null,"scale":{"type":"point","domain":["BF","CF3","CF9","CR3","FR5"],"range":[98,546],"padding":0}},"y":{"field":"v","type":"quantitative","axis":null,"scale":{"domain":[0,20],"range":[1852,1052]}}}},
{"data":{"name":"c"},"transform":[{"filter":"datum.sp=='ee'"}],"mark":{"type":"area","color":"#bfbfbf","opacity":1},"encoding":{"x":{"field":"t","type":"nominal","axis":null,"scale":{"type":"point","domain":["BF","CF3","CF9","CR3","FR5"],"range":[98,546],"padding":0}},"y":{"field":"v","type":"quantitative","axis":null,"scale":{"domain":[0,20],"range":[1852,1052]}}}},
{"data":{"name":"c"},"transform":[{"filter":"datum.sp=='ah'"}],"mark":{"type":"line","color":"white","strokeWidth":10},"encoding":{"x":{"field":"t","type":"nominal","axis":null,"scale":{"type":"point","domain":["BF","CF3","CF9","CR3","FR5"],"range":[98,546],"padding":0}},"y":{"field":"v","type":"quantitative","axis":null,"scale":{"domain":[0,20],"range":[1987,1187]}}}},
{"data":{"name":"c"},"transform":[{"filter":"datum.sp=='ah'"}],"mark":{"type":"area","color":"#0090ff","opacity":1},"encoding":{"x":{"field":"t","type":"nominal","axis":null,"scale":{"type":"point","domain":["BF","CF3","CF9","CR3","FR5"],"range":[98,546],"padding":0}},"y":{"field":"v","type":"quantitative","axis":null,"scale":{"domain":[0,20],"range":[1987,1187]}}}},
{"data":{"name":"c"},"transform":[{"filter":"datum.sp=='cd'"}],"mark":{"type":"line","color":"white","strokeWidth":10},"encoding":{"x":{"field":"t","type":"nominal","axis":null,"scale":{"type":"point","domain":["BF","CF3","CF9","CR3","FR5"],"range":[98,546],"padding":0}},"y":{"field":"v","type":"quantitative","axis":null,"scale":{"domain":[0,20],"range":[2122,1322]}}}},
{"data":{"name":"c"},"transform":[{"filter":"datum.sp=='cd'"}],"mark":{"type":"area","color":"#fb7299","opacity":1},"encoding":{"x":{"field":"t","type":"nominal","axis":null,"scale":{"type":"point","domain":["BF","CF3","CF9","CR3","FR5"],"range":[98,546],"padding":0}},"y":{"field":"v","type":"quantitative","axis":null,"scale":{"domain":[0,20],"range":[2122,1322]}}}},
{"data":{"name":"c"},"transform":[{"filter":"datum.sp=='ib'"}],"mark":{"type":"line","color":"white","strokeWidth":10},"encoding":{"x":{"field":"t","type":"nominal","axis":null,"scale":{"type":"point","domain":["BF","CF3","CF9","CR3","FR5"],"range":[98,546],"padding":0}},"y":{"field":"v","type":"quantitative","axis":null,"scale":{"domain":[0,20],"range":[2257,1457]}}}},
{"data":{"name":"c"},"transform":[{"filter":"datum.sp=='ib'"}],"mark":{"type":"area","color":"#00e3cf","opacity":1},"encoding":{"x":{"field":"t","type":"nominal","axis":null,"scale":{"type":"point","domain":["BF","CF3","CF9","CR3","FR5"],"range":[98,546],"padding":0}},"y":{"field":"v","type":"quantitative","axis":null,"scale":{"domain":[0,20],"range":[2257,1457]}}}},
{"data":{"name":"c"},"transform":[{"filter":"datum.sp=='cs'"}],"mark":{"type":"line","color":"white","strokeWidth":10},"encoding":{"x":{"field":"t","type":"nominal","axis":null,"scale":{"type":"point","domain":["BF","CF3","CF9","CR3","FR5"],"range":[98,546],"padding":0}},"y":{"field":"v","type":"quantitative","axis":null,"scale":{"domain":[0,20],"range":[2392,1592]}}}},
{"data":{"name":"c"},"transform":[{"filter":"datum.sp=='cs'"}],"mark":{"type":"area","color":"#ffd700","opacity":1},"encoding":{"x":{"field":"t","type":"nominal","axis":null,"scale":{"type":"point","domain":["BF","CF3","CF9","CR3","FR5"],"range":[98,546],"padding":0}},"y":{"field":"v","type":"quantitative","axis":null,"scale":{"domain":[0,20],"range":[2392,1592]}}}},
{"data":{"name":"c"},"transform":[{"filter":"datum.sp=='lb'"}],"mark":{"type":"line","color":"white","strokeWidth":10},"encoding":{"x":{"field":"t","type":"nominal","axis":null,"scale":{"type":"point","domain":["BF","CF3","CF9","CR3","FR5"],"range":[98,546],"padding":0}},"y":{"field":"v","type":"quantitative","axis":null,"scale":{"domain":[0,20],"range":[2528,1728]}}}},
{"data":{"name":"c"},"transform":[{"filter":"datum.sp=='lb'"}],"mark":{"type":"area","color":"#ffd700","opacity":1},"encoding":{"x":{"field":"t","type":"nominal","axis":null,"scale":{"type":"point","domain":["BF","CF3","CF9","CR3","FR5"],"range":[98,546],"padding":0}},"y":{"field":"v","type":"quantitative","axis":null,"scale":{"domain":[0,20],"range":[2528,1728]}}}},
{"data":{"name":"cLabels"},"mark":{"type":"text","fontSize":45.5,"align":"left","baseline":"middle","color":"#111","lineBreak":"\n","lineHeight":56},"encoding":{"text":{"field":"l"},
"x":{"datum":0,"type":"quantitative","axis":null,"scale":{"domain":[0,1],"range":[565,600]}},
"y":{"field":"k","type":"quantitative","axis":null,"scale":{"domain":[1,2,3,4,5,6,7,8,9,10],"range":[1193,1426,1545,1715,1817,1957,2110,2222,2381,2506]}}}}
],
"resolve":{"scale":{"x":"independent","y":"independent","color":"independent","stroke":"independent","xOffset":"independent"}}}
